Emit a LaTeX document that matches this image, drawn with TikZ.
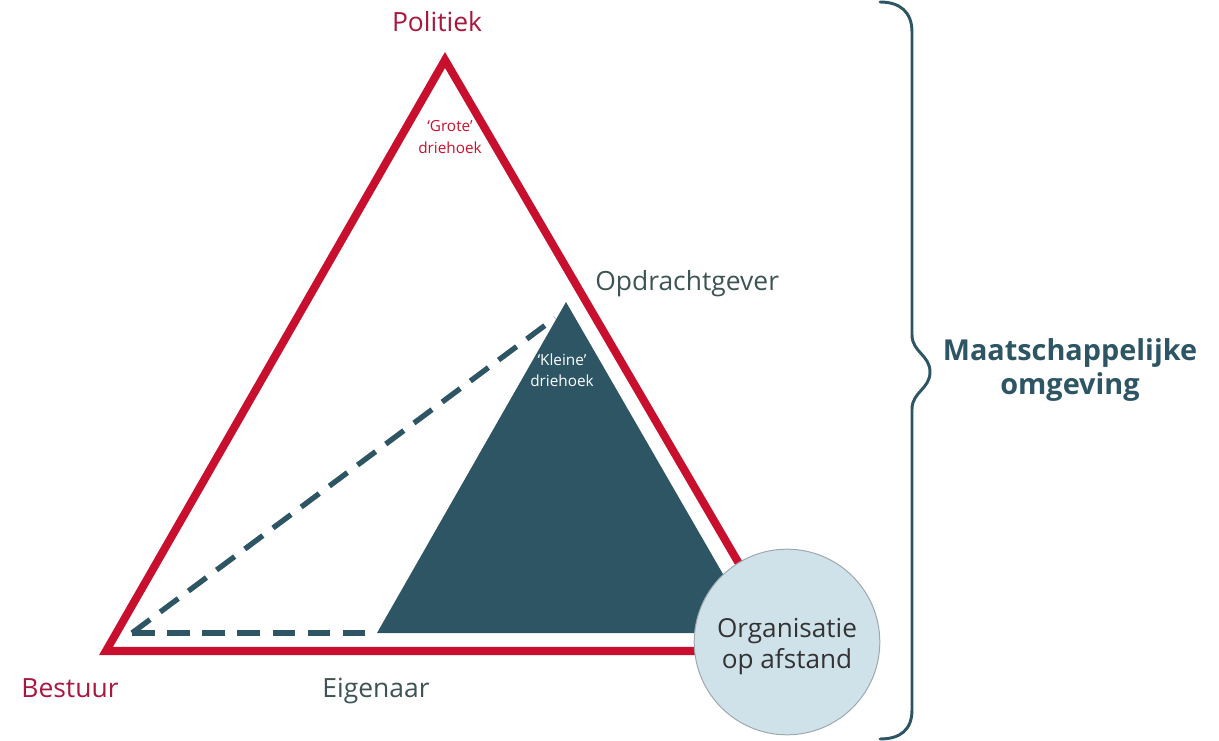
\documentclass[tikz,border=0pt]{standalone}
\usepackage{fontspec}
\setmainfont{Open Sans}
\usetikzlibrary{positioning,calc}
\definecolor{rood}{HTML}{C8102E}
\definecolor{roodtekst}{HTML}{A8173F}
\definecolor{blauwgroen}{HTML}{2D5564}
\definecolor{grijsgroen}{HTML}{3E5354}
\definecolor{lichtblauw}{HTML}{CFE2EA}
\definecolor{rand}{HTML}{9DA8AD}

\begin{document}
\begin{tikzpicture}[x={(0.025cm,0cm)},%
      y={(0cm,-0.025cm)},%
      hoektekst/.style={font=\fontsize{18.8}{22}\selectfont, inner sep=0pt},%
      kleintekst/.style={font=\fontsize{10.9}{15}\selectfont, align=center, inner sep=0pt}]
      \useasboundingbox (0,0) rectangle (1219,741);

      % % Grote driehoek
      \coordinate (politiek) at (445,60);
      \coordinate (bestuur) at (106,651);
      \coordinate (eigenaar) at (790,651);
      \draw[rood, line width=5.7pt, line join=miter] (politiek) -- (bestuur) -- (eigenaar) -- cycle;

      % % Kleine driehoek
      \coordinate (top) at (566,302);
      \coordinate (links) at (377,633);
      \coordinate (rechts) at (757,633);
      \fill[blauwgroen] (top) -- (links) -- (rechts) -- cycle;

      % % Gestippelde lijnen
      \coordinate (hoek) at (132,633);
      \coordinate (eind) at (555,318);
      \draw[blauwgroen, line width=3.8pt, dash pattern=on 16pt off 9pt] (hoek) -- (links);
      \draw[blauwgroen, line width=3.8pt, dash pattern=on 16pt off 9pt] (hoek) -- (eind);

      % % Organisatie op afstand
      \node[circle, draw=rand, line width=0.7pt, fill=lichtblauw, minimum size=132pt, inner sep=0pt] (org) at (787,642) {};
      \node[hoektekst, align=center, text=black!80, font=\fontsize{18.6}{22}\selectfont] (orgtekst) at ($ (org.center) + (0,5) $) {Organisatie\\op afstand};

      % % Accolade
      \draw[blauwgroen, line width=2.1pt, line cap=round] (880,2) .. controls (900,2) and (912,12) .. (912,32) -- (912,335)
        .. controls (912,352) and (930,355) .. (930,372) .. controls (930,389) and (912,392) .. (912,409) -- (912,710)
        .. controls (912,730) and (900,739) .. (880,739);

      % % Teksten
      \node[hoektekst, text=roodtekst, anchor=base] (politiekt) at (437,32) {Politiek};
      \node[hoektekst, text=roodtekst, anchor=base] (bestuurt) at (70,697) {Bestuur};
      \node[hoektekst, text=grijsgroen, anchor=base] (eigenaart) at (376,697) {Eigenaar};
      \node[hoektekst, text=grijsgroen, anchor=base west] (opdrachtt) at (595,291) {Opdrachtgever};
      \node[kleintekst, text=rood] (groot) at (450,137) {`Grote'\\driehoek};
      \node[kleintekst, text=white] (klein) at (562,370) {`Kleine'\\driehoek};
      \node[hoektekst, align=center, text=blauwgroen, font=\bfseries\fontsize{20.5}{23.5}\selectfont] (omgeving) at (1070,370) {Maatschappelijke\\omgeving};
\end{tikzpicture}
\end{document}
